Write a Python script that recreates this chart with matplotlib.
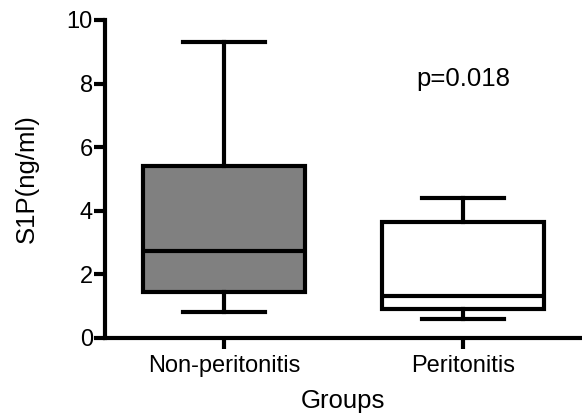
import matplotlib.pyplot as plt

# Box summary values
groups = ['Non-peritonitis', 'Peritonitis']
whisker_low = [0.83, 0.60]
q1 = [1.46, 0.90]
median = [2.75, 1.33]
q3 = [5.42, 3.66]
whisker_high = [9.32, 4.39]
fills = ['#808080', 'white']
p_text = 'p=0.018'

plt.rcParams['font.family'] = ['Liberation Sans', 'DejaVu Sans']

fig = plt.figure(figsize=(5.82, 4.16), dpi=100)
ax = fig.add_axes([0.180, 0.1875, 0.817, 0.7645])

stats = []
for i, g in enumerate(groups):
    stats.append({'label': g, 'whislo': whisker_low[i], 'q1': q1[i],
                  'med': median[i], 'q3': q3[i], 'whishi': whisker_high[i],
                  'fliers': []})

lw = 3
bp = ax.bxp(stats, positions=[0, 1], widths=0.68, patch_artist=True,
            showfliers=False,
            boxprops=dict(linewidth=lw, edgecolor='black'),
            medianprops=dict(linewidth=lw, color='black'),
            whiskerprops=dict(linewidth=lw, color='black'),
            capprops=dict(linewidth=lw, color='black'),
            capwidths=0.345)
for patch, c in zip(bp['boxes'], fills):
    patch.set_facecolor(c)

ax.set_xlim(-0.5, 1.49)
ax.set_ylim(0, 10)
ax.set_yticks([0, 2, 4, 6, 8, 10])
ax.set_xticks([0, 1])
ax.set_xticklabels(groups)
ax.spines['top'].set_visible(False)
ax.spines['right'].set_visible(False)
ax.spines['left'].set_linewidth(lw)
ax.spines['bottom'].set_linewidth(lw)
ax.tick_params(axis='both', width=lw, length=8, labelsize=17)
ax.tick_params(axis='y', pad=0.5)
ax.tick_params(axis='x', pad=4)
ax.set_ylabel('S1P(ng/ml)', fontsize=18.5, labelpad=20)
ax.set_xlabel('Groups', fontsize=18.5, labelpad=9)

ax.text(1, 8.15, p_text, fontsize=18.5, ha='center', va='center')

fig.savefig('out.png', dpi=100)
